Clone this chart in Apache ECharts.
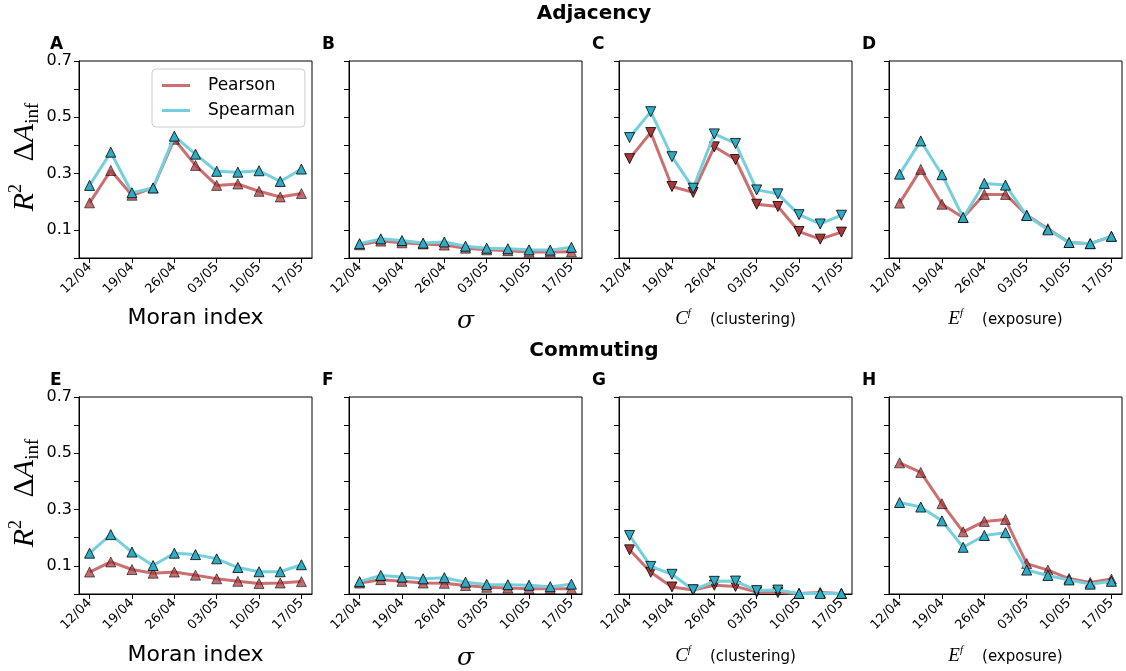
<!DOCTYPE html>
<html>
<head>
<meta charset="utf-8">
<script src="https://cdn.jsdelivr.net/npm/echarts@6/dist/echarts.min.js"></script>
<style>
  html, body { margin: 0; padding: 0; background: #fff; }
  #chart { width: 1126px; height: 671px; }
</style>
</head>
<body>
<div id="chart"></div>
<script>
// Dates of the weekly snapshots (every other one is labelled)
const dates = ['12/04', '15/04', '19/04', '22/04', '26/04', '29/04', '03/05', '06/05', '10/05', '13/05', '17/05'];
const yTicks = [0.1, 0.3, 0.5, 0.7];

// Adjacency network
const pearsonA  = [0.196, 0.311, 0.223, 0.249, 0.422, 0.329, 0.258, 0.263, 0.237, 0.217, 0.229];
const spearmanA = [0.258, 0.376, 0.232, 0.249, 0.433, 0.369, 0.308, 0.305, 0.310, 0.272, 0.316];
const pearsonB  = [0.047, 0.060, 0.054, 0.050, 0.046, 0.035, 0.029, 0.026, 0.021, 0.021, 0.022];
const spearmanB = [0.051, 0.068, 0.062, 0.053, 0.057, 0.042, 0.035, 0.033, 0.029, 0.028, 0.038];
const pearsonC  = [0.353, 0.446, 0.254, 0.233, 0.395, 0.350, 0.191, 0.183, 0.094, 0.067, 0.092];
const spearmanC = [0.428, 0.520, 0.360, 0.248, 0.441, 0.407, 0.242, 0.228, 0.154, 0.121, 0.152];
const pearsonD  = [0.195, 0.315, 0.191, 0.144, 0.226, 0.226, 0.153, 0.104, 0.055, 0.051, 0.077];
const spearmanD = [0.298, 0.416, 0.296, 0.144, 0.265, 0.259, 0.151, 0.100, 0.055, 0.051, 0.077];

// Commuting network
const pearsonE  = [0.078, 0.114, 0.087, 0.074, 0.078, 0.067, 0.054, 0.045, 0.037, 0.039, 0.044];
const spearmanE = [0.145, 0.211, 0.149, 0.101, 0.145, 0.140, 0.125, 0.094, 0.079, 0.079, 0.104];
const pearsonF  = [0.039, 0.051, 0.045, 0.039, 0.038, 0.030, 0.024, 0.021, 0.019, 0.019, 0.019];
const spearmanF = [0.044, 0.066, 0.060, 0.054, 0.058, 0.042, 0.034, 0.033, 0.031, 0.026, 0.035];
const pearsonG  = [0.157, 0.077, 0.025, 0.014, 0.031, 0.027, 0.007, 0.005, 0.002, 0.005, 0.002];
const spearmanG = [0.208, 0.098, 0.070, 0.015, 0.045, 0.046, 0.012, 0.014, 0.002, 0.002, 0.002];
const pearsonH  = [0.466, 0.432, 0.321, 0.221, 0.258, 0.265, 0.108, 0.085, 0.055, 0.041, 0.053];
const spearmanH = [0.325, 0.309, 0.260, 0.166, 0.208, 0.218, 0.085, 0.066, 0.050, 0.035, 0.045];

// Sign of the correlation: 1 = positive (up triangle), -1 = negative (down triangle)
const signUp   = [1, 1, 1, 1, 1, 1, 1, 1, 1, 1, 1];
const signC    = [-1, -1, -1, -1, -1, -1, -1, -1, -1, -1, -1];
const signG    = [-1, -1, -1, -1, -1, -1, -1, -1, 1, 1, 1];

const panels = [
  { letter: 'A', row: 0, col: 0, p: pearsonA, s: spearmanA, sign: signUp, axis: 'moran' },
  { letter: 'B', row: 0, col: 1, p: pearsonB, s: spearmanB, sign: signUp, axis: 'sigma' },
  { letter: 'C', row: 0, col: 2, p: pearsonC, s: spearmanC, sign: signC,  axis: 'clust' },
  { letter: 'D', row: 0, col: 3, p: pearsonD, s: spearmanD, sign: signUp, axis: 'expo' },
  { letter: 'E', row: 1, col: 0, p: pearsonE, s: spearmanE, sign: signUp, axis: 'moran' },
  { letter: 'F', row: 1, col: 1, p: pearsonF, s: spearmanF, sign: signUp, axis: 'sigma' },
  { letter: 'G', row: 1, col: 2, p: pearsonG, s: spearmanG, sign: signG,  axis: 'clust' },
  { letter: 'H', row: 1, col: 3, p: pearsonH, s: spearmanH, sign: signUp, axis: 'expo' }
];

const C_PEARSON_LINE = '#cc6f70';
const C_PEARSON_MARK = '#a8373a';
const C_SPEARMAN_LINE = '#76d0dc';
const C_SPEARMAN_MARK = '#2eacc6';

const GRID_W = 233, GRID_H = 197;
const gridLeft = c => 79 + 270 * c;
const gridTop = r => (r === 0 ? 61 : 397);

const grids = [], xAxes = [], yAxes = [], series = [], graphics = [];

function points(values, sign) {
  return values.map((v, i) => ({ value: v, symbolRotate: sign[i] > 0 ? 0 : 180 }));
}

panels.forEach((pn, k) => {
  const left = gridLeft(pn.col), top = gridTop(pn.row);
  grids.push({ left, top, width: GRID_W, height: GRID_H, show: true, borderColor: '#000', borderWidth: 1, containLabel: false });
  xAxes.push({
    type: 'category', gridIndex: k, data: dates, boundaryGap: true,
    axisLine: { show: true, lineStyle: { color: '#000', width: 1 } },
    axisTick: { show: true, alignWithLabel: true, length: 5, interval: 1, lineStyle: { color: '#000' } },
    axisLabel: { interval: 1, rotate: 45, fontSize: 13, color: '#000', fontFamily: 'DejaVu Sans', margin: 7 },
    splitLine: { show: false }
  });
  yAxes.push({
    type: 'value', gridIndex: k, min: 0, max: 0.7, interval: 0.1,
    axisLine: { show: true, lineStyle: { color: '#000', width: 1 } },
    axisTick: { show: true, length: 5, lineStyle: { color: '#000' } },
    axisLabel: {
      show: pn.col === 0, fontSize: 16, color: '#000', fontFamily: 'DejaVu Sans', margin: 7,
      formatter: v => {
        const hit = yTicks.find(t => Math.abs(t - v) < 1e-6);
        return hit !== undefined ? hit.toFixed(1) : '';
      }
    },
    splitLine: { show: false }
  });
  const fade = pn.sign === signC || pn.sign === signG ? 1 : 0.72;
  series.push({
    name: 'Pearson', type: 'line', xAxisIndex: k, yAxisIndex: k,
    data: points(pn.p, pn.sign), symbol: 'triangle', symbolSize: 10,
    lineStyle: { color: C_PEARSON_LINE, width: 3 },
    itemStyle: { color: C_PEARSON_MARK, borderColor: '#000', borderWidth: 0.8, opacity: fade },
    z: 2, animation: false
  });
  series.push({
    name: 'Spearman', type: 'line', xAxisIndex: k, yAxisIndex: k,
    data: points(pn.s, pn.sign), symbol: 'triangle', symbolSize: 10,
    lineStyle: { color: C_SPEARMAN_LINE, width: 3 },
    itemStyle: { color: C_SPEARMAN_MARK, borderColor: '#000', borderWidth: 0.8 },
    z: 3, animation: false
  });

  // Panel letter
  graphics.push({
    type: 'text', x: left - 29 + (pn.col === 0 ? 0 : 2), y: top - 16,
    style: { text: pn.letter, font: 'bold 17px "DejaVu Sans"', fill: '#000', textAlign: 'left', textVerticalAlign: 'middle' }
  });

  // x-axis caption
  const cx = left + GRID_W / 2;
  const cy = pn.row === 0 ? 318 : 655;
  if (pn.axis === 'moran') {
    graphics.push({ type: 'text', x: cx, y: cy,
      style: { text: 'Moran index', font: '22px "DejaVu Sans"', fill: '#000', textAlign: 'center', textVerticalAlign: 'middle' } });
  } else if (pn.axis === 'sigma') {
    graphics.push({ type: 'text', x: cx, y: cy + 3,
      style: { text: 'σ', font: 'italic 25px "DejaVu Serif"', fill: '#000', textAlign: 'center', textVerticalAlign: 'middle' } });
  } else {
    const word = pn.axis === 'clust' ? '(clustering)' : '(exposure)';
    const sym = pn.axis === 'clust' ? 'C' : 'E';
    graphics.push({ type: 'text', x: cx, y: cy,
      style: {
        text: '{m|' + sym + '}{s|f}{t|    ' + word + '}',
        textAlign: 'center', textVerticalAlign: 'middle',
        rich: {
          m: { fontFamily: 'Liberation Serif', fontStyle: 'italic', fontSize: 19, color: '#555', lineHeight: 20, verticalAlign: 'bottom' },
          s: { fontFamily: 'Liberation Serif', fontStyle: 'italic', fontSize: 11, color: '#555', lineHeight: 20, verticalAlign: 'top' },
          t: { fontFamily: 'DejaVu Sans', fontSize: 15, color: '#000', lineHeight: 20, verticalAlign: 'bottom' }
        }
      } });
  }

  // y-axis caption on the first column
  if (pn.col === 0) {
    graphics.push({ type: 'text', x: 25, y: top + 96, rotation: Math.PI / 2,
      style: {
        text: '{r|R}{p|2}{d|   Δ}{a|A}{b|inf}',
        textAlign: 'center', textVerticalAlign: 'middle',
        rich: {
          r: { fontFamily: 'Liberation Serif', fontStyle: 'italic', fontSize: 30, color: '#000', lineHeight: 36, verticalAlign: 'middle' },
          p: { fontFamily: 'Liberation Serif', fontSize: 18, color: '#000', lineHeight: 36, verticalAlign: 'top' },
          d: { fontFamily: 'Liberation Serif', fontSize: 30, color: '#000', lineHeight: 36, verticalAlign: 'middle' },
          a: { fontFamily: 'Liberation Serif', fontStyle: 'italic', fontSize: 30, color: '#000', lineHeight: 36, verticalAlign: 'middle' },
          b: { fontFamily: 'Liberation Serif', fontSize: 19, color: '#000', lineHeight: 36, verticalAlign: 'bottom' }
        }
      } });
  }
});

// Row titles
graphics.push({ type: 'text', x: 594, y: 14,
  style: { text: 'Adjacency', font: 'bold 20px "DejaVu Sans"', fill: '#000', textAlign: 'center', textVerticalAlign: 'middle' } });
graphics.push({ type: 'text', x: 594, y: 351,
  style: { text: 'Commuting', font: 'bold 20px "DejaVu Sans"', fill: '#000', textAlign: 'center', textVerticalAlign: 'middle' } });

const chart = echarts.init(document.getElementById('chart'), null, { renderer: 'canvas' });
chart.setOption({
  animation: false,
  backgroundColor: '#fff',
  grid: grids,
  xAxis: xAxes,
  yAxis: yAxes,
  series: series,
  graphic: graphics,
  legend: {
    left: 152, top: 69, orient: 'vertical',
    padding: [8, 10, 8, 10], itemGap: 8, itemWidth: 28, itemHeight: 3,
    backgroundColor: 'rgba(255,255,255,0.85)',
    borderColor: '#cccccc', borderWidth: 1, borderRadius: 4,
    textStyle: { fontSize: 17, color: '#000', fontFamily: 'DejaVu Sans', lineHeight: 17, padding: [0, 0, 0, 13] },
    data: [
      { name: 'Pearson', icon: 'rect', itemStyle: { color: C_PEARSON_LINE, borderWidth: 0, opacity: 1 } },
      { name: 'Spearman', icon: 'rect', itemStyle: { color: C_SPEARMAN_LINE, borderWidth: 0, opacity: 1 } }
    ]
  }
});
</script>
</body>
</html>
